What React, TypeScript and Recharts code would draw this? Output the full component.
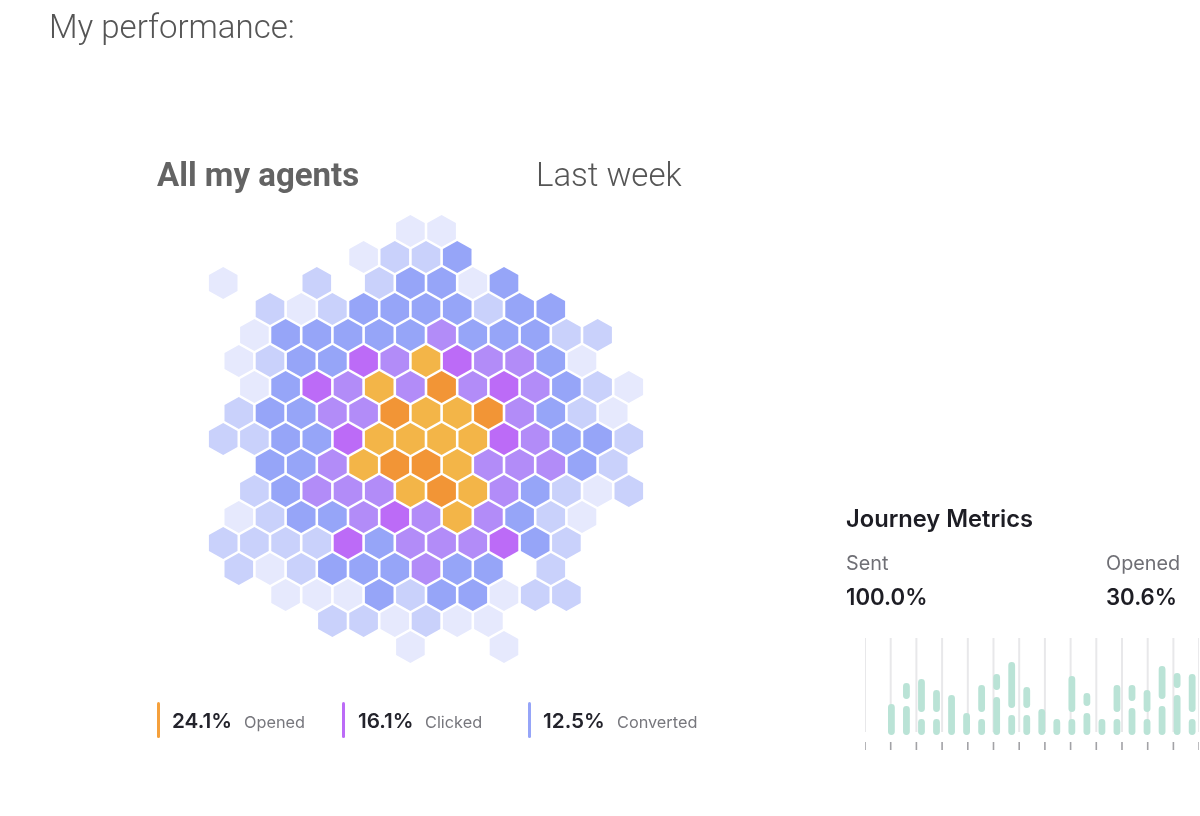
import React from "react";
import { ScatterChart, Scatter, XAxis, YAxis, BarChart, Bar, LineChart, Line, CartesianGrid } from "recharts";

// Hex map: one string per row; alternate rows sit half a column to the right.
// Letters are intensity bands, "." is an empty cell.
const hexRows = [
  "......LL......",
  "....LMMB.....",
  "L..M.MBBLB....",
  ".MLMBBBBMBB..",
  ".LBBBBBPBBBMM.",
  "LMBBVPOVPPBL.",
  ".LBVPOPRPVPBML",
  "MBBPPROORPBML",
  "MMBBVOOOOVPBBM",
  ".BBPORROPPPBM",
  ".MBPPPOROPBMLM",
  "LMBBPVPOPBML.",
  "MMMMVBPPPVBM..",
  "MLMBBBPBB.M..",
  "..LLLBMBBLMM..",
  "...MMLMLL....",
  "......L..L....",
];
const bandKeys = ["L", "M", "B", "P", "V", "O", "R"];
const bandColors = ["#E6E9FD", "#C9D1FB", "#96A5F8", "#B28CF8", "#BC6BF7", "#F3B548", "#F29536"];

// Journey metrics: lower segment and upper segment of each column (0 = none)
const journeyLower = [31, 29, 16, 16, 40, 22, 16, 38, 20, 20, 26, 16, 16, 22, 16, 16, 27, 16, 29, 40, 16];
const journeyUpper = [0, 16, 33, 22, 0, 0, 27, 16, 46, 21, 0, 0, 36, 13, 0, 27, 16, 22, 33, 15, 38];
const journeyGap = 7;
const journeyTicks = [0, 1, 2, 3, 4, 5, 6, 7, 8, 9, 10, 11, 12, 13];

const legendItems = [
  { value: "24.1%", label: "Opened", color: "#F5A03C", bar: 157, num: 172, lab: 244 },
  { value: "16.1%", label: "Clicked", color: "#BC6BF7", bar: 342, num: 358, lab: 425 },
  { value: "12.5%", label: "Converted", color: "#96A5F8", bar: 528, num: 543, lab: 617 },
];

const journeyMetrics = [
  { label: "Sent", value: "100.0%", x: 846 },
  { label: "Opened", value: "30.6%", x: 1106 },
];

const hexPoints = bandKeys.map((key) => {
  const pts: { col: number; row: number }[] = [];
  hexRows.forEach((line, row) => {
    line.split("").forEach((ch, i) => {
      if (ch === key) pts.push({ col: i * 2 + (row % 2), row });
    });
  });
  return pts;
});

const journeyData = journeyLower.map((lower, i) => ({
  name: String(i),
  lower,
  gap: journeyUpper[i] ? journeyGap : 0,
  upper: journeyUpper[i],
}));
const gridData = journeyTicks.map((t) => ({ t, v: 0 }));

const Hex = (p: any) => {
  const { cx, cy, fill } = p;
  const w = 14.3, h = 16, s = 8;
  const d = [[0, -h], [w, -s], [w, s], [0, h], [-w, s], [-w, -s]].map(([a, b]) => `${cx + a},${cy + b}`).join(" ");
  return <polygon points={d} fill={fill} />;
};

const text = (s: React.CSSProperties): React.CSSProperties => ({ position: "absolute", whiteSpace: "nowrap", lineHeight: 1, filter: "blur(0.35px)", ...s });

const JourneyTick = (p: any) => (
  <line x1={p.x} x2={p.x} y1={104} y2={112} stroke="#A2A2A6" strokeWidth={1.6} />
);

export default function App() {
  return (
    <div style={{ position: "absolute", left: 0, top: 0, width: 1200, height: 816, overflow: "hidden", background: "#fff", fontFamily: "Inter" }}>
      <div style={text({ left: 49, top: 10, fontFamily: "Roboto", fontWeight: 300, fontSize: 33, color: "#555" })}>My performance:</div>
      <div style={text({ left: 157, top: 158, fontFamily: "Roboto", fontWeight: 700, fontSize: 33, color: "#636363" })}>All my agents</div>
      <div style={text({ left: 536, top: 158, fontFamily: "Roboto", fontWeight: 300, fontSize: 33, color: "#555" })}>Last week</div>

      <div style={{ position: "absolute", left: 191.8, top: 205, filter: "blur(0.5px)" }}>
        <ScatterChart width={468} height={468} margin={{ top: 0, right: 0, bottom: 0, left: 0 }}>
          <XAxis type="number" dataKey="col" domain={[-2, 28]} hide />
          <YAxis type="number" dataKey="row" domain={[-1, 17]} reversed hide />
          {bandKeys.map((k, i) => (
            <Scatter key={k} name={k} data={hexPoints[i]} fill={bandColors[i]} shape={Hex} isAnimationActive={false} />
          ))}
        </ScatterChart>
      </div>

      {legendItems.map((it) => (
        <React.Fragment key={it.label}>
          <div style={{ position: "absolute", left: it.bar, top: 702, width: 3, height: 36, borderRadius: 2, background: it.color }} />
          <div style={text({ left: it.num, top: 711, fontWeight: 600, fontSize: 20.7, color: "#23232b" })}>{it.value}</div>
          <div style={text({ left: it.lab, top: 714, fontWeight: 400, fontSize: 16.3, color: "#77777d" })}>{it.label}</div>
        </React.Fragment>
      ))}

      <div style={text({ left: 846, top: 507, fontWeight: 600, fontSize: 23.7, color: "#1d1d24" })}>Journey Metrics</div>
      {journeyMetrics.map((m) => (
        <React.Fragment key={m.label}>
          <div style={text({ left: m.x, top: 554, fontWeight: 400, fontSize: 19.8, color: "#6f6f75" })}>{m.label}</div>
          <div style={text({ left: m.x, top: 586, fontWeight: 600, fontSize: 22.2, color: "#1d1d24" })}>{m.value}</div>
        </React.Fragment>
      ))}

      <div style={{ position: "absolute", left: 864.7, top: 638, filter: "blur(0.4px)" }}>
        <LineChart width={334.1} height={120} data={gridData} margin={{ top: 0, right: 0, bottom: 0, left: 0 }}>
          <CartesianGrid horizontal={false} stroke="#E8E8EA" strokeWidth={2} />
          <XAxis type="number" dataKey="t" domain={[0, 13]} ticks={journeyTicks} axisLine={false} tickLine={false} tick={JourneyTick} interval={0} height={26} />
          <YAxis hide domain={[0, 1]} />
          <Line dataKey="v" stroke="none" dot={false} isAnimationActive={false} />
        </LineChart>
      </div>

      <div style={{ position: "absolute", left: 884.2, top: 635, filter: "blur(0.4px)" }}>
        <BarChart width={315.8} height={100} data={journeyData} margin={{ top: 0, right: 0, bottom: 0, left: 0 }} barCategoryGap="0%" barSize={6.8}>
          <XAxis dataKey="name" hide />
          <YAxis hide domain={[0, 100]} />
          <Bar dataKey="lower" stackId="a" fill="#BAE3D6" radius={3.4} isAnimationActive={false} />
          <Bar dataKey="gap" stackId="a" fill="none" isAnimationActive={false} />
          <Bar dataKey="upper" stackId="a" fill="#BAE3D6" radius={3.4} isAnimationActive={false} />
        </BarChart>
      </div>
    </div>
  );
}
